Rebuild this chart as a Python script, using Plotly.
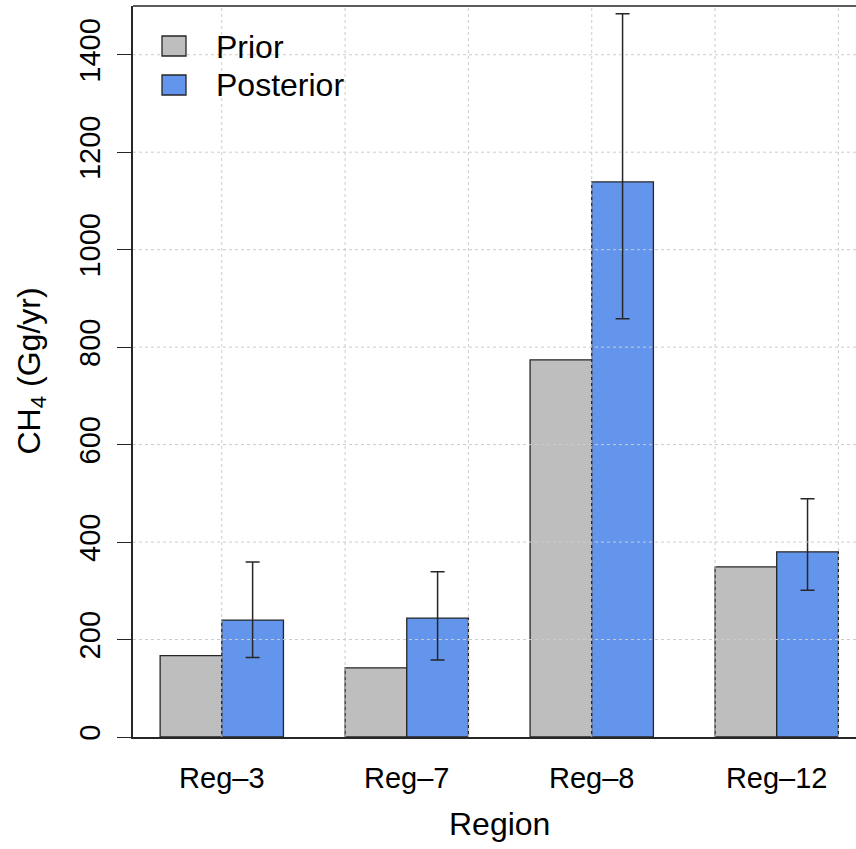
import plotly.graph_objects as go

# ---- data ----
regions = ["Reg\u20133", "Reg\u20137", "Reg\u20138", "Reg\u201312"]
prior = [167, 142, 774, 349]
posterior = [240, 244, 1139, 380]
post_upper = [359, 339, 1484, 489]
post_lower = [163, 158, 858, 301]
series_names = ["Prior", "Posterior"]
y_ticks = [0, 200, 400, 600, 800, 1000, 1200, 1400]

# ---- layout helpers ----
W, H = 856, 849
L, T, B = 133, 6, 112
PW, PH = W - L, H - T - B
def px(p):
    return (p - L) / PW
def py(p):
    return (H - B - p) / PH

FONT = "Liberation Sans, Arial, Helvetica, sans-serif"
GRAY = "#BEBEBE"
BLUE = "#6495ED"
AX = "#262626"

# bar positions: beside barplot, space=c(0,1)
n = len(regions)
x_prior = [3 * i + 1.5 for i in range(n)]
x_post = [3 * i + 2.5 for i in range(n)]
x_center = [3 * i + 2 for i in range(n)]
ext = 0.04 * (3 * n - 1)
r_lo, r_hi = 1 - ext, 3 * n + ext          # full R plot region (partly cropped at right)
full_px = 732.5                             # pixel width of the full region
x_hi = r_lo + PW / full_px * (r_hi - r_lo)  # visible portion

fig = go.Figure()
fig.add_trace(go.Bar(
    x=x_prior, y=prior, width=1, name=series_names[0],
    marker=dict(color=GRAY, line=dict(color=AX, width=1.3)),
    showlegend=False,
))
fig.add_trace(go.Bar(
    x=x_post, y=posterior, width=1, name=series_names[1],
    marker=dict(color=BLUE, line=dict(color=AX, width=1.3)),
    error_y=dict(type="data", symmetric=False,
                 array=[u - v for u, v in zip(post_upper, posterior)],
                 arrayminus=[v - l for v, l in zip(posterior, post_lower)],
                 color=AX, thickness=1.5, width=7),
    showlegend=False,
))

shapes = []
GRID = dict(color="#CCCCCC", width=1, dash="dot")
for g in y_ticks[1:]:
    shapes.append(dict(type="line", xref="paper", yref="y", x0=0, x1=1, y0=g, y1=g,
                       line=GRID, layer="above"))
for g in range(2, 3 * n + 1, 2):
    shapes.append(dict(type="line", xref="x", yref="paper", x0=g, x1=g, y0=0, y1=1,
                       line=GRID, layer="above"))
shapes.append(dict(type="line", xref="paper", yref="paper", x0=0, x1=1, y0=1, y1=1,
                   line=dict(color=AX, width=1.5), layer="above"))
for (top, col) in [(36, GRAY), (75, BLUE)]:
    shapes.append(dict(type="rect", xref="paper", yref="paper",
                       x0=px(162), x1=px(186), y0=py(top + 20), y1=py(top),
                       fillcolor=col, line=dict(color=AX, width=1.3), layer="above"))

annotations = []
for name, cy in zip(series_names, [46.5, 85]):
    annotations.append(dict(text=name, xref="paper", yref="paper", x=px(214), y=py(cy),
                            xanchor="left", yanchor="middle", showarrow=False,
                            font=dict(family=FONT, size=32, color="black")))
annotations.append(dict(text="Region", xref="x", yref="paper", x=(r_lo + r_hi) / 2,
                        y=py(824), xanchor="center", yanchor="middle", showarrow=False,
                        font=dict(family=FONT, size=32, color="black")))
annotations.append(dict(text="CH<sub>4</sub> (Gg/yr)", xref="paper", yref="paper", x=px(31),
                        y=0.5, xanchor="center", yanchor="middle", textangle=-90, showarrow=False,
                        font=dict(family=FONT, size=32, color="black")))

fig.update_layout(
    width=W, height=H,
    margin=dict(l=L, r=0, t=T, b=B, pad=0),
    plot_bgcolor="white", paper_bgcolor="white",
    barmode="overlay",
    shapes=shapes, annotations=annotations,
    font=dict(family=FONT, color="black"),
    xaxis=dict(range=[r_lo, x_hi], tickmode="array", tickvals=x_center, ticktext=regions,
               ticks="", showgrid=False, zeroline=False, showline=True, linecolor=AX, linewidth=1.5,
               tickfont=dict(family=FONT, size=29, color="black"), ticklabelstandoff=14),
    yaxis=dict(range=[0, 1500], tickmode="array", tickvals=y_ticks,
               ticks="outside", ticklen=14, tickwidth=1.3, tickcolor=AX,
               showgrid=False, zeroline=False, showline=True, linecolor=AX, linewidth=1.5,
               tickangle=-90, tickfont=dict(family=FONT, size=29, color="black"),
               ticklabelstandoff=6),
)

fig.write_html("out.html")
